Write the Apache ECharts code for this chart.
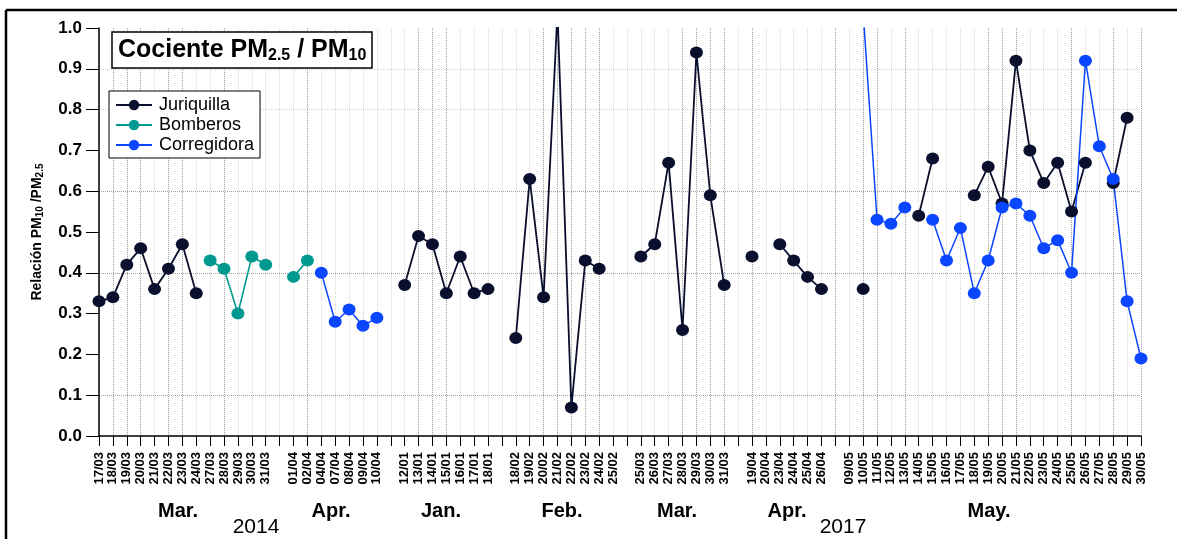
<!DOCTYPE html>
<html>
<head>
<meta charset="utf-8">
<script src="https://cdn.jsdelivr.net/npm/echarts@6/dist/echarts.min.js"></script>
<style>
  html, body { margin: 0; padding: 0; background: #fff; }
  #chart { width: 1177px; height: 539px; }
</style>
</head>
<body>
<div id="chart"></div>
<script>
// Sampling days (day/month); empty strings are spacer slots between campaigns
var categories = [
  '17/03','18/03','19/03','20/03','21/03','22/03','23/03','24/03','27/03','28/03','29/03','30/03','31/03','',
  '01/04','02/04','04/04','07/04','08/04','09/04','10/04','',
  '12/01','13/01','14/01','15/01','16/01','17/01','18/01','',
  '18/02','19/02','20/02','21/02','22/02','23/02','24/02','25/02','',
  '25/03','26/03','27/03','28/03','29/03','30/03','31/03','',
  '19/04','20/04','23/04','24/04','25/04','26/04','',
  '09/05','10/05','11/05','12/05','13/05','14/05','15/05','16/05','17/05','18/05','19/05',
  '20/05','21/05','22/05','23/05','24/05','25/05','26/05','27/05','28/05','29/05','30/05'
];

// PM2.5 / PM10 ratio per station (null = no measurement)
var juriquilla = [
  0.33,0.34,0.42,0.46,0.36,0.41,0.47,0.35,null,null,null,null,null,null,
  null,null,null,null,null,null,null,null,
  0.37,0.49,0.47,0.35,0.44,0.35,0.36,null,
  0.24,0.63,0.34,1.04,0.07,0.43,0.41,null,null,
  0.44,0.47,0.67,0.26,0.94,0.59,0.37,null,
  0.44,null,0.47,0.43,0.39,0.36,null,
  null,0.36,null,null,null,0.54,0.68,null,null,0.59,0.66,
  0.57,0.92,0.70,0.62,0.67,0.55,0.67,null,0.62,0.78,null
];
var bomberos = [
  null,null,null,null,null,null,null,null,0.43,0.41,0.30,0.44,0.42,null,
  0.39,0.43,null,null,null,null,null,null,
  null,null,null,null,null,null,null,null,
  null,null,null,null,null,null,null,null,null,
  null,null,null,null,null,null,null,null,
  null,null,null,null,null,null,null,
  null,null,null,null,null,null,null,null,null,null,null,
  null,null,null,null,null,null,null,null,null,null,null
];
var corregidora = [
  null,null,null,null,null,null,null,null,null,null,null,null,null,null,
  null,null,0.40,0.28,0.31,0.27,0.29,null,
  null,null,null,null,null,null,null,null,
  null,null,null,null,null,null,null,null,null,
  null,null,null,null,null,null,null,null,
  null,null,null,null,null,null,null,
  null,1.04,0.53,0.52,0.56,null,0.53,0.43,0.51,0.35,0.43,
  0.56,0.57,0.54,0.46,0.48,0.40,0.92,0.71,0.63,0.33,0.19
];
var yTicks = [0, 1.0, 0.1];

// Group labels under the date axis
var monthLabels = ['Mar.', 'Apr.', 'Jan.', 'Feb.', 'Mar.', 'Apr.', 'May.'];
var yearLabels = ['2014', '2017'];

var FONT = 'Liberation Sans, Arial, sans-serif';
var colors = { jur: '#0a0f2e', bom: '#00998f', cor: '#0a46ff' };

// dotted grid styling
var darkGrid = '#a0a0a0', lightGrid = '#d6d6d6';
var darkVertical = [1,2,3,5,6,9,15,23,24,25,32,33,34,35,36,42,43,44,45,47,53,55,56,58,64,65,66,70,73,75];
var vColors = categories.map(function (c, i) {
  return darkVertical.indexOf(i) >= 0 ? darkGrid : lightGrid;
});
var none = 'rgba(0,0,0,0)';
var hColors = [none, darkGrid, none, none, darkGrid, none, darkGrid, none, lightGrid, lightGrid, none];

function lineSeries(name, data, color, width) {
  return {
    name: name,
    type: 'line',
    data: data,
    connectNulls: false,
    showAllSymbol: true,
    symbol: 'circle',
    symbolSize: [13, 12],
    clip: true,
    lineStyle: { color: color, width: width },
    itemStyle: { color: color },
    emphasis: { disabled: true },
    animation: false
  };
}

var monthX = [178, 331, 441, 562, 677, 787, 989];
var yearX = [256, 843];
var graphics = [
  { type: 'line', shape: { x1: 6, y1: 10, x2: 1177, y2: 10 }, style: { stroke: '#000', lineWidth: 2.5 } },
  { type: 'line', shape: { x1: 6, y1: 10, x2: 6, y2: 539 }, style: { stroke: '#000', lineWidth: 2.5 } }
];
monthLabels.forEach(function (m, i) {
  graphics.push({ type: 'text', x: monthX[i], y: 511, style: {
    text: m, font: 'bold 20px ' + FONT, fill: '#000', align: 'center', verticalAlign: 'middle' } });
});
yearLabels.forEach(function (yl, i) {
  graphics.push({ type: 'text', x: yearX[i], y: 527, style: {
    text: yl, font: '21px ' + FONT, fill: '#000', align: 'center', verticalAlign: 'middle' } });
});

var chart = echarts.init(document.getElementById('chart'), null, { renderer: 'canvas' });
chart.setOption({
  animation: false,
  backgroundColor: '#fff',
  title: {
    text: '{m|Cociente PM}{s|2.5}{m| / PM}{s|10}',
    left: 112, top: 31,
    padding: [4, 6, 4, 6],
    borderColor: '#000', borderWidth: 1.5, backgroundColor: '#fff',
    textStyle: {
      rich: {
        m: { fontSize: 25, fontWeight: 'bold', fontFamily: FONT, color: '#000', lineHeight: 30 },
        s: { fontSize: 16, fontWeight: 'bold', fontFamily: FONT, color: '#000', padding: [12, 0, 0, 0], lineHeight: 30 }
      }
    }
  },
  legend: {
    orient: 'vertical',
    left: 109, top: 91,
    padding: [5, 6, 4, 6],
    itemWidth: 36, itemHeight: 13, itemGap: 2,
    backgroundColor: '#fff', borderColor: '#000', borderWidth: 1,
    textStyle: { fontFamily: FONT, fontSize: 18, color: '#000', padding: [0, 0, 0, 2] },
    data: ['Juriquilla', 'Bomberos', 'Corregidora']
  },
  grid: { left: 99, right: 36, top: 28, bottom: 103, containLabel: false },
  xAxis: {
    type: 'category',
    data: categories,
    boundaryGap: false,
    axisLine: { lineStyle: { color: '#000', width: 1.5 } },
    axisTick: { interval: 0, length: 10, lineStyle: { color: '#000', width: 1 } },
    axisLabel: {
      interval: 0, rotate: 90, margin: 16,
      fontFamily: FONT, fontSize: 13, fontWeight: 'bold', color: '#000'
    },
    splitLine: { show: true, interval: 0, lineStyle: { color: vColors, type: 'dotted', width: 1 } }
  },
  yAxis: {
    type: 'value',
    min: yTicks[0], max: yTicks[1], interval: yTicks[2],
    name: '{b|Relación PM}{s|10}{b| /PM}{s|2.5}',
    nameLocation: 'middle', nameRotate: 90, nameGap: 52,
    nameTextStyle: {
      rich: {
        b: { fontSize: 14, fontWeight: 'bold', fontFamily: FONT, color: '#000', lineHeight: 20 },
        s: { fontSize: 10, fontWeight: 'bold', fontFamily: FONT, color: '#000', padding: [7, 0, 0, 0], lineHeight: 20 }
      }
    },
    axisLine: { show: true, lineStyle: { color: '#000', width: 1.5 } },
    axisTick: { show: true, length: 13, lineStyle: { color: '#000', width: 1 } },
    axisLabel: {
      margin: 17, fontFamily: FONT, fontSize: 17, fontWeight: 'bold', color: '#000',
      formatter: function (v) { return v.toFixed(1); }
    },
    splitLine: { show: true, lineStyle: { color: hColors, type: 'dotted', width: 1 } }
  },
  series: [
    lineSeries('Juriquilla', juriquilla, colors.jur, 1.8),
    lineSeries('Bomberos', bomberos, colors.bom, 1.6),
    lineSeries('Corregidora', corregidora, colors.cor, 1.5)
  ],
  graphic: graphics
});
</script>
</body>
</html>
